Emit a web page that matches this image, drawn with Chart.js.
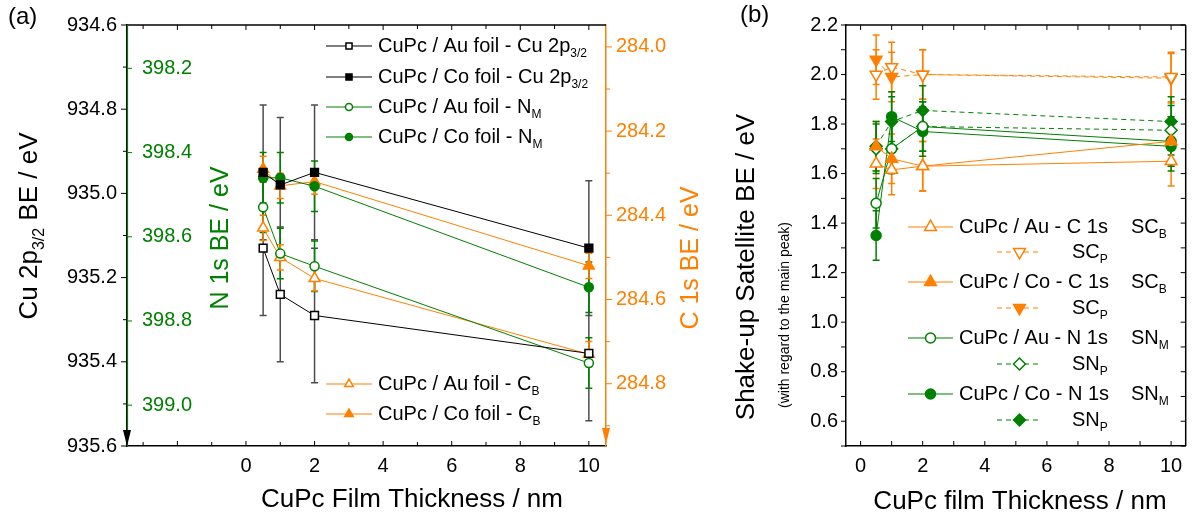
<!DOCTYPE html>
<html>
<head>
<meta charset="utf-8">
<script src="https://cdn.jsdelivr.net/npm/chart.js@4.4.0/dist/chart.umd.min.js"></script>
<style>
  html, body { margin: 0; padding: 0; background: #fff; }
  #wrap { position: relative; width: 1194px; height: 519px; overflow: hidden; }
  #ca { position: absolute; left: 0; top: 0; }
  #cb { position: absolute; left: 700px; top: 0; }
</style>
</head>
<body>
<div id="wrap">
  <canvas id="ca" width="730" height="519"></canvas>
  <canvas id="cb" width="494" height="519"></canvas>
</div>
<script>
// ---- panel (a): core level binding energies ----
const thicknessA = [0.5, 1, 2, 10];
const cuAu = [935.13, 935.24, 935.29, 935.38];
const cuCo = [934.95, 934.98, 934.95, 935.13];
const cuErr = [0.16, 0.16, 0.16, 0.16];
const nAu = [398.53, 398.64, 398.67, 398.90];
const nCo = [398.46, 398.46, 398.48, 398.72];
const nErr = [0.06, 0.06, 0.06, 0.06];
const cAu = [284.43, 284.50, 284.55, 284.73];
const cCo = [284.29, 284.33, 284.32, 284.52];
const cErr = [0.03, 0.03, 0.03, 0.03];
const cuTicks = [934.6, 934.8, 935.0, 935.2, 935.4, 935.6];
const nTicks = [398.2, 398.4, 398.6, 398.8, 399.0];
const cTicks = [284.0, 284.2, 284.4, 284.6, 284.8];
const xTicksA = [0, 2, 4, 6, 8, 10];

// ---- panel (b): shake-up satellites ----
const thicknessB = [0.5, 1, 2, 10];
const scbAu = [1.64, 1.615, 1.63, 1.65];
const scpAu = [2.0, 2.03, 2.0, 1.99];
const scbCo = [1.71, 1.66, 1.63, 1.73];
const scpCo = [2.06, 1.99, 2.0, 1.985];
const snmAu = [1.48, 1.70, 1.79, 1.73];
const snpAu = [1.70, 1.70, 1.79, 1.775];
const snmCo = [1.35, 1.83, 1.77, 1.71];
const snpCo = [1.71, 1.81, 1.855, 1.81];
const satErr = [0.1, 0.1, 0.1, 0.1];
const satTicks = [0.6, 0.8, 1.0, 1.2, 1.4, 1.6, 1.8, 2.0, 2.2];
const xTicksB = [0, 2, 4, 6, 8, 10];

const FONT = "'Liberation Sans', Arial, sans-serif";
const BLACK = '#000000';
const GREEN = '#008000';
const ORANGE = '#FF8000';
const ERRGRAY = '#4d4d4d';

function series(label, xs, ys, yAxisID, color, style, filled, radius, extra) {
  return Object.assign({
    label, yAxisID,
    data: xs.map((x, i) => ({ x, y: ys[i] })),
    borderColor: color,
    borderWidth: 1,
    pointStyle: style,
    pointRadius: radius,
    pointHoverRadius: radius,
    pointBorderColor: color,
    pointBorderWidth: 1.5,
    pointBackgroundColor: filled ? color : '#ffffff',
    tension: 0,
    fill: false,
  }, extra || {});
}

function line(ctx, x1, y1, x2, y2, color, w) {
  ctx.save();
  ctx.strokeStyle = color;
  ctx.lineWidth = w || 1;
  ctx.beginPath();
  ctx.moveTo(x1, y1);
  ctx.lineTo(x2, y2);
  ctx.stroke();
  ctx.restore();
}

// text made of runs, some of them subscripts
function rich(ctx, runs, x, y, size, color, rotate, align) {
  ctx.save();
  ctx.translate(x, y);
  if (rotate) ctx.rotate(-Math.PI / 2);
  ctx.fillStyle = color;
  ctx.textBaseline = 'middle';
  ctx.textAlign = 'left';
  const sub = Math.round(size * 0.62);
  const widths = runs.map(r => {
    ctx.font = (r.sub ? sub : size) + 'px ' + FONT;
    return ctx.measureText(r.t).width;
  });
  const total = widths.reduce((s, w) => s + w, 0);
  let cx = align === 'center' ? -total / 2 : 0;
  runs.forEach((r, i) => {
    ctx.font = (r.sub ? sub : size) + 'px ' + FONT;
    ctx.fillText(r.t, cx, r.sub ? size * 0.36 : 0);
    cx += widths[i];
  });
  ctx.restore();
}

function errorBars(chart, yId, xs, ys, errs, color, cap) {
  const ctx = chart.ctx;
  const sx = chart.scales.x, sy = chart.scales[yId];
  ctx.save();
  ctx.strokeStyle = color;
  ctx.lineWidth = 1.5;
  xs.forEach((xv, i) => {
    const px = sx.getPixelForValue(xv);
    const p1 = sy.getPixelForValue(ys[i] - errs[i]);
    const p2 = sy.getPixelForValue(ys[i] + errs[i]);
    ctx.beginPath();
    ctx.moveTo(px, p1); ctx.lineTo(px, p2);
    ctx.moveTo(px - cap, p1); ctx.lineTo(px + cap, p1);
    ctx.moveTo(px - cap, p2); ctx.lineTo(px + cap, p2);
    ctx.stroke();
  });
  ctx.restore();
}

function marker(ctx, ds, x, y, scale) {
  ctx.save();
  ctx.setLineDash([]);
  ctx.fillStyle = ds.pointBackgroundColor;
  ctx.strokeStyle = ds.pointBorderColor;
  ctx.lineWidth = ds.pointBorderWidth;
  Chart.helpers.drawPoint(ctx, {
    pointStyle: ds.pointStyle,
    rotation: ds.pointRotation || 0,
    radius: ds.pointRadius * (scale || 1),
    borderWidth: ds.pointBorderWidth,
  }, x, y);
  ctx.restore();
}

function legendRow(ctx, ds, x1, x2, y, scale) {
  ctx.save();
  ctx.strokeStyle = ds.borderColor;
  ctx.lineWidth = 1.2;
  ctx.setLineDash(ds.borderDash || []);
  ctx.beginPath();
  ctx.moveTo(x1, y);
  ctx.lineTo(x2, y);
  ctx.stroke();
  ctx.restore();
  marker(ctx, ds, (x1 + x2) / 2, y, scale);
}

function arrowDown(ctx, x, tipY, color) {
  ctx.save();
  ctx.fillStyle = color;
  ctx.beginPath();
  ctx.moveTo(x, tipY);
  ctx.lineTo(x - 4, tipY - 16);
  ctx.lineTo(x + 4, tipY - 16);
  ctx.closePath();
  ctx.fill();
  ctx.restore();
}

const tickFont = { family: FONT, size: 20 };

// ---------------- panel (a) ----------------
const legendA = [
  { ds: 0, y: 46, runs: [{ t: 'CuPc / Au foil - Cu 2p' }, { t: '3/2', sub: true }] },
  { ds: 1, y: 77, runs: [{ t: 'CuPc / Co foil - Cu 2p' }, { t: '3/2', sub: true }] },
  { ds: 2, y: 107, runs: [{ t: 'CuPc / Au foil - N' }, { t: 'M', sub: true }] },
  { ds: 3, y: 137, runs: [{ t: 'CuPc / Co foil - N' }, { t: 'M', sub: true }] },
  { ds: 4, y: 384, runs: [{ t: 'CuPc / Au foil - C' }, { t: 'B', sub: true }] },
  { ds: 5, y: 414, runs: [{ t: 'CuPc / Co foil - C' }, { t: 'B', sub: true }] },
];

const decorA = {
  id: 'decorA',
  beforeDatasetsDraw(chart) {
    errorBars(chart, 'y', thicknessA, cuAu, cuErr, ERRGRAY, 3.5);
    errorBars(chart, 'y', thicknessA, cuCo, cuErr, ERRGRAY, 3.5);
    errorBars(chart, 'yN', thicknessA, nAu, nErr, GREEN, 3.5);
    errorBars(chart, 'yN', thicknessA, nCo, nErr, GREEN, 3.5);
    errorBars(chart, 'yC', thicknessA, cAu, cErr, ORANGE, 3.5);
    errorBars(chart, 'yC', thicknessA, cCo, cErr, ORANGE, 3.5);
  },
  afterDraw(chart) {
    const { ctx, chartArea: a, scales } = chart;
    const sx = scales.x, sCu = scales.y, sN = scales.yN, sC = scales.yC;
    // frame
    line(ctx, a.left, a.top, a.right, a.top, BLACK, 1.5);
    line(ctx, a.left + 0.5, a.top, a.left + 0.5, a.bottom, GREEN, 1.2);
    // x ticks (inward, bottom and top)
    for (let v = -3; v <= 10; v++) {
      const px = sx.getPixelForValue(v);
      const len = v % 2 === 0 ? 5 : 4;
      line(ctx, px, a.bottom, px, a.bottom - len, BLACK, 1);
      line(ctx, px, a.top, px, a.top + len, BLACK, 1);
    }
    // Cu ticks (outward, left)
    for (let k = 0; k <= 10; k++) {
      const py = sCu.getPixelForValue(934.6 + k * 0.1);
      line(ctx, a.left - (k % 2 === 0 ? 6 : 4), py, a.left, py, BLACK, 1);
    }
    // N ticks and labels (inside, green)
    ctx.save();
    ctx.font = '20px ' + FONT;
    ctx.fillStyle = GREEN;
    ctx.textAlign = 'left';
    ctx.textBaseline = 'middle';
    nTicks.forEach(v => {
      const py = sN.getPixelForValue(v);
      line(ctx, a.left, py, a.left + 5, py, GREEN, 1);
      ctx.fillText(v.toFixed(1), a.left + 15, py);
    });
    ctx.restore();
    // C ticks (outward, right)
    for (let k = 0; k <= 9; k++) {
      const py = sC.getPixelForValue(284.0 + k * 0.1);
      line(ctx, a.right, py, a.right + (k % 2 === 0 ? 6 : 4), py, ORANGE, 1);
    }
    // arrows at the bottom of the two energy axes
    arrowDown(ctx, a.left, a.bottom, BLACK);
    arrowDown(ctx, a.right, a.bottom - 2, ORANGE);
    // titles
    rich(ctx, [{ t: '(a)' }], 8, 17, 24, BLACK, false, 'left');
    rich(ctx, [{ t: 'Cu 2p' }, { t: '3/2', sub: true }, { t: ' BE / eV' }], 30, 226, 26, BLACK, true, 'center');
    rich(ctx, [{ t: 'N 1s BE / eV' }], 221, 238, 25, GREEN, true, 'center');
    rich(ctx, [{ t: 'C 1s BE / eV' }], 691, 258, 25, ORANGE, true, 'center');
    rich(ctx, [{ t: 'CuPc Film Thickness / nm' }], 412, 500, 26, BLACK, false, 'center');
    // legends
    legendA.forEach(e => {
      const ds = chart.data.datasets[e.ds];
      legendRow(ctx, ds, 326, 372, e.y, 0.78);
      rich(ctx, e.runs, 378, e.y, 20, BLACK, false, 'left');
    });
  },
};

new Chart(document.getElementById('ca'), {
  type: 'line',
  data: {
    datasets: [
      series('CuPc / Au foil - Cu 2p3/2', thicknessA, cuAu, 'y', BLACK, 'rect', false, 5.5),
      series('CuPc / Co foil - Cu 2p3/2', thicknessA, cuCo, 'y', BLACK, 'rect', true, 5.5),
      series('CuPc / Au foil - NM', thicknessA, nAu, 'yN', GREEN, 'circle', false, 4.5),
      series('CuPc / Co foil - NM', thicknessA, nCo, 'yN', GREEN, 'circle', true, 4.5),
      series('CuPc / Au foil - CB', thicknessA, cAu, 'yC', ORANGE, 'triangle', false, 6.3),
      series('CuPc / Co foil - CB', thicknessA, cCo, 'yC', ORANGE, 'triangle', true, 6.3),
    ],
  },
  options: {
    responsive: false,
    animation: false,
    events: [],
    layout: { padding: { top: 25, left: 0, right: 0, bottom: 0 } },
    plugins: { legend: { display: false }, tooltip: { enabled: false } },
    scales: {
      x: {
        type: 'linear', min: -3.47, max: 10.5,
        afterFit: s => { s.height = 73; },
        afterBuildTicks: s => { s.ticks = xTicksA.map(v => ({ value: v })); },
        grid: { display: false, drawTicks: false },
        border: { display: true, color: BLACK, width: 1.5 },
        ticks: { color: BLACK, font: tickFont, padding: 8, maxRotation: 0, autoSkip: false, callback: v => String(v) },
      },
      y: {
        type: 'linear', position: 'left', reverse: true, min: 934.6, max: 935.6,
        afterFit: s => { s.width = 127; },
        afterBuildTicks: s => { s.ticks = cuTicks.map(v => ({ value: v })); },
        grid: { display: false, drawTicks: false },
        border: { display: true, color: BLACK, width: 1.5 },
        ticks: { color: BLACK, font: tickFont, padding: 10, autoSkip: false, callback: v => v.toFixed(1) },
      },
      yN: {
        type: 'linear', position: 'left', reverse: true, min: 398.097, max: 399.097,
        display: false,
      },
      yC: {
        type: 'linear', position: 'right', reverse: true, min: 283.948, max: 284.948,
        afterFit: s => { s.width = 124; },
        afterBuildTicks: s => { s.ticks = cTicks.map(v => ({ value: v })); },
        grid: { display: false, drawTicks: false },
        border: { display: true, color: ORANGE, width: 1.5 },
        ticks: { color: ORANGE, font: tickFont, padding: 10, autoSkip: false, callback: v => v.toFixed(1) },
      },
    },
  },
  plugins: [decorA],
});

// ---------------- panel (b) ----------------
const legendB = [
  { ds: 0, y: 227, runs: [{ t: 'CuPc / Au - C 1s' }], tag: [{ t: 'SC' }, { t: 'B', sub: true }] },
  { ds: 1, y: 252, tag: [{ t: 'SC' }, { t: 'P', sub: true }] },
  { ds: 2, y: 282, runs: [{ t: 'CuPc / Co - C 1s' }], tag: [{ t: 'SC' }, { t: 'B', sub: true }] },
  { ds: 3, y: 308, tag: [{ t: 'SC' }, { t: 'P', sub: true }] },
  { ds: 4, y: 338, runs: [{ t: 'CuPc / Au - N 1s' }], tag: [{ t: 'SN' }, { t: 'M', sub: true }] },
  { ds: 5, y: 364, tag: [{ t: 'SN' }, { t: 'P', sub: true }] },
  { ds: 6, y: 394, runs: [{ t: 'CuPc / Co - N 1s' }], tag: [{ t: 'SN' }, { t: 'M', sub: true }] },
  { ds: 7, y: 420, tag: [{ t: 'SN' }, { t: 'P', sub: true }] },
];

const decorB = {
  id: 'decorB',
  beforeDatasetsDraw(chart) {
    errorBars(chart, 'y', thicknessB, scbAu, satErr, ORANGE, 3.5);
    errorBars(chart, 'y', thicknessB, scpAu, satErr, ORANGE, 3.5);
    errorBars(chart, 'y', thicknessB, scbCo, satErr, ORANGE, 3.5);
    errorBars(chart, 'y', thicknessB, scpCo, satErr, ORANGE, 3.5);
    errorBars(chart, 'y', thicknessB, snmAu, satErr, GREEN, 3.5);
    errorBars(chart, 'y', thicknessB, snpAu, satErr, GREEN, 3.5);
    errorBars(chart, 'y', thicknessB, snmCo, satErr, GREEN, 3.5);
    errorBars(chart, 'y', thicknessB, snpCo, satErr, GREEN, 3.5);
  },
  afterDraw(chart) {
    const { ctx, chartArea: a, scales } = chart;
    const sx = scales.x, sy = scales.y;
    line(ctx, a.left, a.top, a.right, a.top, BLACK, 1.5);
    line(ctx, a.right, a.top, a.right, a.bottom, BLACK, 1.5);
    for (let v = 0; v <= 10; v++) {
      const px = sx.getPixelForValue(v);
      line(ctx, px, a.bottom, px, a.bottom - 5, BLACK, 1);
      line(ctx, px, a.top, px, a.top + 5, BLACK, 1);
    }
    for (let k = 5; k <= 22; k++) {
      const py = sy.getPixelForValue(k / 10);
      line(ctx, a.left - 5, py, a.left, py, BLACK, 1);
      line(ctx, a.right, py, a.right - 5, py, BLACK, 1);
    }
    rich(ctx, [{ t: '(b)' }], 40, 15, 24, BLACK, false, 'left');
    rich(ctx, [{ t: 'Shake-up Satellite BE / eV' }], 47, 267, 26, BLACK, true, 'center');
    rich(ctx, [{ t: '(with regard to the main peak)' }], 85, 315, 14, BLACK, true, 'center');
    rich(ctx, [{ t: 'CuPc film Thickness / nm' }], 320, 502, 26, BLACK, false, 'center');
    legendB.forEach(e => {
      const ds = chart.data.datasets[e.ds];
      if (e.runs) {
        legendRow(ctx, ds, 208, 253, e.y, 1);
        rich(ctx, e.runs, 259, e.y, 20, BLACK, false, 'left');
        rich(ctx, e.tag, 431, e.y, 20, BLACK, false, 'left');
      } else {
        legendRow(ctx, ds, 297, 342, e.y, 1);
        rich(ctx, e.tag, 372, e.y, 20, BLACK, false, 'left');
      }
    });
  },
};

const dash = { borderDash: [5, 4] };
new Chart(document.getElementById('cb'), {
  type: 'line',
  data: {
    datasets: [
      series('CuPc / Au - C 1s SCB', thicknessB, scbAu, 'y', ORANGE, 'triangle', false, 6.8),
      series('SCP (Au)', thicknessB, scpAu, 'y', ORANGE, 'triangle', false, 6.8, Object.assign({ pointRotation: 180 }, dash)),
      series('CuPc / Co - C 1s SCB', thicknessB, scbCo, 'y', ORANGE, 'triangle', true, 6.8),
      series('SCP (Co)', thicknessB, scpCo, 'y', ORANGE, 'triangle', true, 6.8, Object.assign({ pointRotation: 180 }, dash)),
      series('CuPc / Au - N 1s SNM', thicknessB, snmAu, 'y', GREEN, 'circle', false, 5),
      series('SNP (Au)', thicknessB, snpAu, 'y', GREEN, 'rectRot', false, 6, dash),
      series('CuPc / Co - N 1s SNM', thicknessB, snmCo, 'y', GREEN, 'circle', true, 5),
      series('SNP (Co)', thicknessB, snpCo, 'y', GREEN, 'rectRot', true, 6, dash),
    ],
  },
  options: {
    responsive: false,
    animation: false,
    events: [],
    layout: { padding: { top: 25, left: 0, right: 1, bottom: 0 } },
    plugins: { legend: { display: false }, tooltip: { enabled: false } },
    scales: {
      x: {
        type: 'linear', min: -0.47, max: 10.47,
        afterFit: s => { s.height = 73; },
        afterBuildTicks: s => { s.ticks = xTicksB.map(v => ({ value: v })); },
        grid: { display: false, drawTicks: false },
        border: { display: true, color: BLACK, width: 1.5 },
        ticks: { color: BLACK, font: tickFont, padding: 8, maxRotation: 0, autoSkip: false, callback: v => String(v) },
      },
      y: {
        type: 'linear', position: 'left', min: 0.5, max: 2.2,
        afterFit: s => { s.width = 146; },
        afterBuildTicks: s => { s.ticks = satTicks.map(v => ({ value: v })); },
        grid: { display: false, drawTicks: false },
        border: { display: true, color: BLACK, width: 1.5 },
        ticks: { color: BLACK, font: tickFont, padding: 8, autoSkip: false, callback: v => v.toFixed(1) },
      },
    },
  },
  plugins: [decorB],
});
</script>
</body>
</html>
